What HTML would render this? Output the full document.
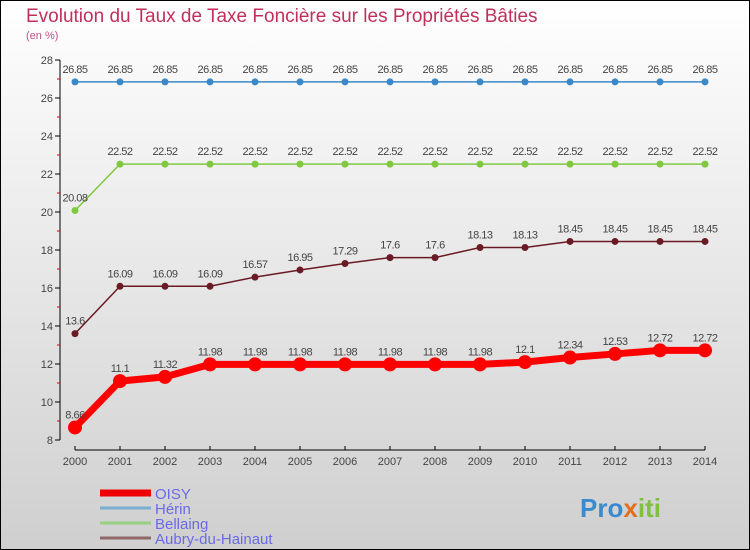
<!DOCTYPE html>
<html><head><meta charset="utf-8"><style>
body{margin:0}
svg{display:block;font-family:"Liberation Sans",sans-serif}
</style></head><body>
<svg width="750" height="550">
<defs><linearGradient id="bg" x1="0" y1="0" x2="0" y2="1"><stop offset="0" stop-color="#ffffff"/><stop offset="1" stop-color="#cfcfcf"/></linearGradient></defs>
<rect x="0.5" y="0.5" width="749" height="549" fill="url(#bg)" stroke="#000"/>
<text x="26" y="22" font-size="19" fill="#c0305a">Evolution du Taux de Taxe Foncière sur les Propriétés Bâties</text>
<text x="26" y="39" font-size="11" fill="#c0508a">(en %)</text>
<g id="axes"></g><g id="series"></g><g id="legend"></g>
<text x="580" y="517" font-size="26" font-weight="bold" fill="#3a8ad0">Pro<tspan fill="#e07020">x</tspan><tspan fill="#80c040">iti</tspan></text>
</svg>
<script>
const years=[2000,2001,2002,2003,2004,2005,2006,2007,2008,2009,2010,2011,2012,2013,2014];
const yTicks=[8,10,12,14,16,18,20,22,24,26,28];
const oisy=[8.66,11.1,11.32,11.98,11.98,11.98,11.98,11.98,11.98,11.98,12.1,12.34,12.53,12.72,12.72];
const herin=[26.85,26.85,26.85,26.85,26.85,26.85,26.85,26.85,26.85,26.85,26.85,26.85,26.85,26.85,26.85];
const bellaing=[20.08,22.52,22.52,22.52,22.52,22.52,22.52,22.52,22.52,22.52,22.52,22.52,22.52,22.52,22.52];
const aubry=[13.6,16.09,16.09,16.09,16.57,16.95,17.29,17.6,17.6,18.13,18.13,18.45,18.45,18.45,18.45];
const NS="http://www.w3.org/2000/svg";
const xs=i=>75+i*45, ys=v=>440-(v-8)*19;
function mk(t,a,p){const e=document.createElementNS(NS,t);for(const k in a)e.setAttribute(k,a[k]);p.appendChild(e);return e;}
const ax=document.getElementById('axes');
let yl=mk('line',{x1:60,y1:60,x2:60,y2:440,stroke:'#000'},ax);


let xl=mk('line',{x1:75,y1:450,x2:705,y2:450,stroke:'#000'},ax);


yTicks.forEach((v,i)=>{
 mk('line',{x1:55,y1:ys(v),x2:60,y2:ys(v),stroke:'#000'},ax);
 if(i<yTicks.length-1)mk('line',{x1:57,y1:ys(v+1),x2:60,y2:ys(v+1),stroke:'#d00'},ax);
 const t=mk('text',{x:53,y:ys(v)+4,'font-size':11,fill:'#444','text-anchor':'end'},ax);t.textContent=v;
 
 
});
years.forEach((y,i)=>{
 mk('line',{x1:xs(i),y1:446,x2:xs(i),y2:450,stroke:'#000'},ax);
 const t=mk('text',{x:xs(i),y:465,'font-size':11,fill:'#444','text-anchor':'middle'},ax);t.textContent=y;
 
 
});
const sg=document.getElementById('series');
function series(data,color,w,r,name){
 const g=mk('g',{},sg);
 
 
 mk('polyline',{points:data.map((v,i)=>xs(i)+','+ys(v)).join(' '),fill:'none',stroke:color,'stroke-width':w},g);
 data.forEach((v,i)=>{
  const c=mk('circle',{cx:xs(i),cy:ys(v),r:r,fill:color},g);
  
  
  const t=mk('text',{x:xs(i),y:ys(v)-9,'font-size':11,fill:'#444','text-anchor':'middle','letter-spacing':'-0.5'},g);t.textContent=v;
  
  
 });
}
series(herin,'#3a88c8',1.5,3.5,'herin');
series(bellaing,'#80c840',1.5,3.5,'bellaing');
series(aubry,'#6a1a24',1.5,3.5,'aubry');
series(oisy,'#ff0000',7,7,'oisy');
const lg=document.getElementById('legend');
const lnames=['OISY','Hérin','Bellaing','Aubry-du-Hainaut'],lcols=['#ee0000','#7aaed0','#98d080','#906868'],lw=[7,3,3,3];
lnames.forEach((n,i)=>{
 const y=493+i*15;
 const l=mk('line',{x1:100,y1:y,x2:151,y2:y,stroke:lcols[i],'stroke-width':lw[i]},lg);
 
 
 const t=mk('text',{x:155,y:y+6,'font-size':15,fill:'#6a6ae8'},lg);t.textContent=n;
 
 
});
</script>
</body></html>
